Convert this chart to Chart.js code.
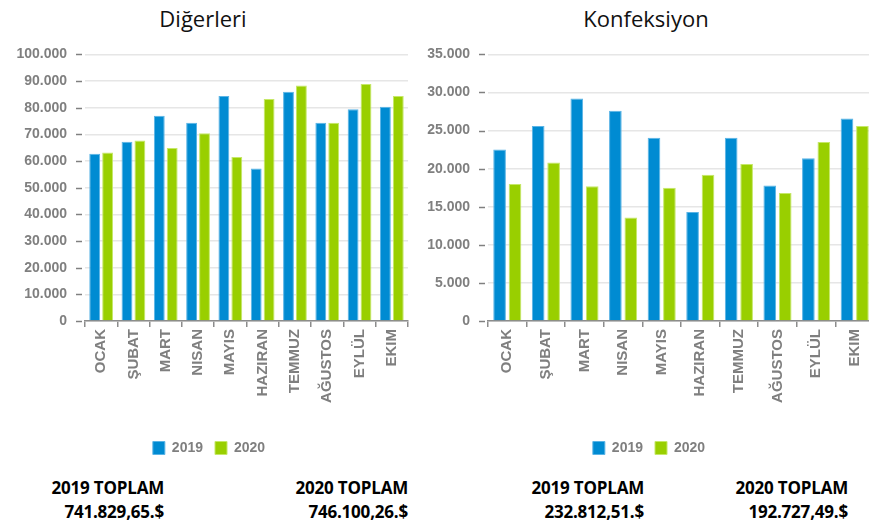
<!DOCTYPE html>
<html>
<head>
<meta charset="utf-8">
<script src="https://cdn.jsdelivr.net/npm/chart.js@4"></script>
<style>
  html, body { margin: 0; padding: 0; background: #fff; overflow: hidden; }
  body { width: 869px; height: 524px; position: relative; }
  .title { position: absolute; top: 3px; font: 22px "Open Sans", sans-serif; color: #111; text-align: center; width: 300px; }
  .chartbox { position: absolute; top: 28px; height: 437px; }
  .total { position: absolute; text-align: right; font: bold 17px "Open Sans", sans-serif; color: #000; line-height: 24px; letter-spacing: -0.2px; }
</style>
</head>
<body>
<div class="title" id="t1" style="left:53px"></div>
<div class="title" id="t2" style="left:496px"></div>
<div class="chartbox" style="left:0; width:420px"><canvas id="diger"></canvas></div>
<div class="chartbox" style="left:420px; width:466px"><canvas id="konf"></canvas></div>
<div class="total" id="tot0" style="left:0; width:164px; top:476px"></div>
<div class="total" id="tot1" style="left:200px; width:208px; top:476px"></div>
<div class="total" id="tot2" style="left:440px; width:204px; top:476px"></div>
<div class="total" id="tot3" style="left:650px; width:198px; top:476px"></div>
<script>
const months = ["OCAK", "ŞUBAT", "MART", "NISAN", "MAYIS", "HAZIRAN", "TEMMUZ", "AĞUSTOS", "EYLÜL", "EKIM"];
const seriesNames = ["2019", "2020"];

const digerleri2019 = [62700, 67200, 77000, 74400, 84400, 57200, 86000, 74400, 79400, 80400];
const digerleri2020 = [63200, 67700, 64900, 70400, 61500, 83300, 88300, 74400, 88900, 84400];
const konfeksiyon2019 = [22500, 25600, 29200, 27600, 24050, 14300, 24050, 17800, 21350, 26600];
const konfeksiyon2020 = [18000, 20800, 17700, 13600, 17500, 19200, 20600, 16800, 23500, 25600];

const titles = ["Diğerleri", "Konfeksiyon"];
const totalLabels = ["2019 TOPLAM", "2020 TOPLAM", "2019 TOPLAM", "2020 TOPLAM"];
const totalValues = ["741.829,65.$", "746.100,26.$", "232.812,51.$", "192.727,49.$"];

document.getElementById("t1").textContent = titles[0];
document.getElementById("t2").textContent = titles[1];
totalLabels.forEach((lbl, i) => {
  document.getElementById("tot" + i).innerHTML = lbl + "<br>" + totalValues[i];
});

const blue = "#008bd2";
const green = "#99cf00";
const gray = "#7f7f7f";

// 100000 -> "100.000"
function trNumber(v) {
  return String(v).replace(/\B(?=(\d{3})+(?!\d))/g, ".");
}

// small dashes next to the y tick labels, plus moving the legend
const extras = {
  id: "extras",
  afterLayout(chart, args, opts) {
    if (opts.legendShift && chart.legend) {
      chart.legend.left += opts.legendShift;
      chart.legend.right += opts.legendShift;
    }
  },
  afterDraw(chart) {
    const y = chart.scales.y;
    const ctx = chart.ctx;
    const left = chart.chartArea.left;
    ctx.save();
    ctx.strokeStyle = "#808080";
    ctx.lineWidth = 1.5;
    y.ticks.forEach((t) => {
      const py = Math.round(y.getPixelForValue(t.value)) + 0.5;
      ctx.beginPath();
      ctx.moveTo(left - 9, py);
      ctx.lineTo(left - 3, py);
      ctx.stroke();
    });
    ctx.restore();
  },
};

function makeChart(id, d2019, d2020, max, step, yWidth, barPct, shift) {
  return new Chart(document.getElementById(id), {
    type: "bar",
    data: {
      labels: months,
      datasets: [
        { label: seriesNames[0], data: d2019, backgroundColor: blue, borderColor: "#5ab4e6", borderWidth: 1 },
        { label: seriesNames[1], data: d2020, backgroundColor: green, borderColor: "#c6e868", borderWidth: 1 },
      ],
    },
    plugins: [extras],
    options: {
      responsive: true,
      maintainAspectRatio: false,
      animation: false,
      categoryPercentage: 0.8,
      barPercentage: barPct,
      layout: { padding: { top: 13, right: 12, left: 0, bottom: 0 } },
      plugins: {
        title: { display: false },
        tooltip: { enabled: false },
        extras: { legendShift: shift },
        legend: {
          position: "bottom",
          labels: {
            boxWidth: 12,
            boxHeight: 13,
            padding: 12,
            color: gray,
            font: { family: "'Liberation Sans', Arial, sans-serif", size: 14, weight: "bold" },
          },
        },
      },
      scales: {
        x: {
          offset: true,
          grid: { display: true, drawOnChartArea: false, drawTicks: true, tickLength: 6, color: "#8c8c8c", lineWidth: 1.5, offset: true },
          border: { display: true, color: "#8c8c8c", width: 1.5 },
          ticks: {
            minRotation: 90,
            maxRotation: 90,
            padding: 2,
            color: gray,
            font: { family: "'Liberation Sans', Arial, sans-serif", size: 15, weight: "bold" },
          },
          afterFit: (s) => { s.height = 108; },
        },
        y: {
          min: 0,
          max: max,
          grid: { color: "#e6e6e6", lineWidth: 1.5, drawTicks: false },
          border: { display: false },
          ticks: {
            stepSize: step,
            padding: 18,
            color: gray,
            font: { family: "'Liberation Sans', Arial, sans-serif", size: 14, weight: "bold" },
            callback: (v) => trNumber(v),
          },
          afterFit: (s) => { s.width = yWidth; },
        },
      },
    },
  });
}

makeChart("diger", digerleri2019, digerleri2020, 100000, 10000, 85, 0.84, 5);
makeChart("konf", konfeksiyon2019, konfeksiyon2020, 35000, 5000, 68, 0.82, 2);
</script>
</body>
</html>
